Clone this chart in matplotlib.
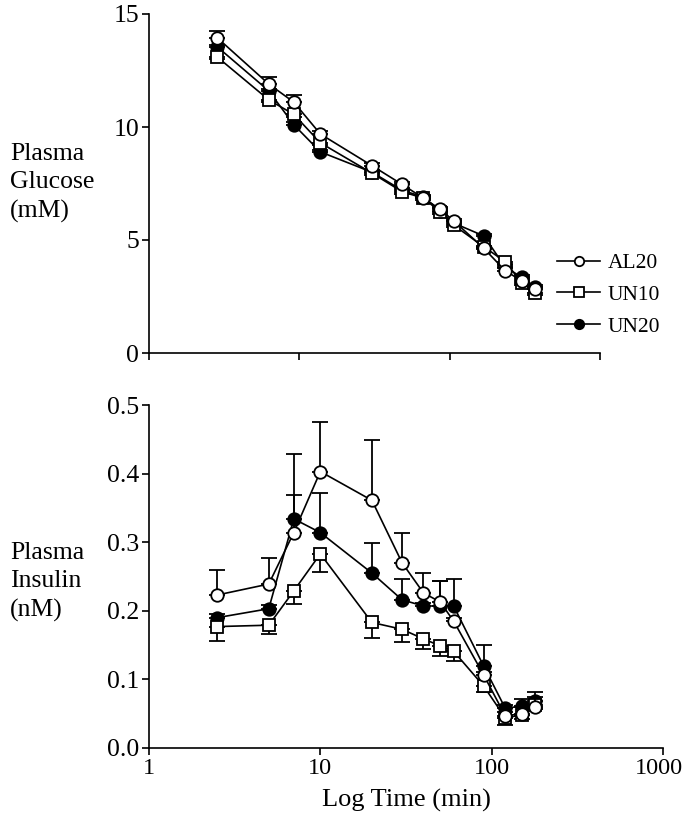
import numpy as np
import matplotlib
matplotlib.use("Agg")
import matplotlib.pyplot as plt
import matplotlib.transforms as mtransforms

plt.rcParams['font.family'] = ['Liberation Serif', 'DejaVu Serif']

# tiempos de muestreo (min)
time_min = [2.5, 5, 7, 10, 20, 30, 40, 50, 60, 90, 120, 150, 180]

# glucosa plasmática (mM)
glu_al20 = [13.95, 11.9, 11.1, 9.69, 8.29, 7.46, 6.85, 6.36, 5.85, 4.63, 3.64, 3.19, 2.82]
glu_un10 = [13.1, 11.2, 10.56, 9.3, 7.96, 7.14, 6.85, 6.25, 5.66, 4.7, 4.04, 3.1, 2.65]
glu_un20 = [13.55, 11.6, 10.1, 8.9, 8.0, 7.2, 6.9, 6.3, 5.75, 5.18, 3.8, 3.35, 2.9]
glu_al20_err = [0.3, 0.3, 0.3, 0.15, 0.1, 0.1, 0.1, 0.1, 0.1, 0.1, 0.1, 0.1, 0.1]
glu_un10_err = [0.1] * 13
glu_un20_err = [0.1] * 13

# insulina plasmática (nM)
ins_al20 = [0.223, 0.239, 0.314, 0.403, 0.361, 0.270, 0.226, 0.213, 0.185, 0.106, 0.047, 0.050, 0.060]
ins_un10 = [0.177, 0.179, 0.229, 0.283, 0.183, 0.173, 0.159, 0.149, 0.141, 0.090, 0.044, 0.048, 0.062]
ins_un20 = [0.190, 0.203, 0.334, 0.314, 0.255, 0.216, 0.207, 0.207, 0.207, 0.119, 0.058, 0.061, 0.068]
ins_al20_err = [0.037, 0.038, 0.055, 0.072, 0.088, 0.043, 0.029, 0.030, 0.005, 0.005, 0.005, 0.010, 0.014]
ins_un10_err = [0.021, 0.013, 0.019, 0.027, 0.022, 0.018, 0.015, 0.015, 0.014, 0.009, 0.010, 0.005, 0.005]
ins_un20_err = [0.005, 0.005, 0.094, 0.057, 0.044, 0.031, 0.005, 0.036, 0.039, 0.031, 0.005, 0.010, 0.014]

glu_ticks = [0, 5, 10, 15]
ins_ticks = [0.0, 0.1, 0.2, 0.3, 0.4, 0.5]
time_ticks = [1, 10, 100, 1000]

W, H = 685, 824
fig = plt.figure(figsize=(W / 100, H / 100), dpi=100)
ax1 = fig.add_axes([149 / W, 1 - 353 / H, 514 / W, 339 / H])
ax2 = fig.add_axes([149 / W, 1 - 748 / H, 514 / W, 343 / H])

series = [
    # etiqueta, marcador, relleno, orden
    ('UN20', 'o', 'black', 2),
    ('UN10', 's', 'white', 3),
    ('AL20', 'o', 'white', 4),
]
glu = {'AL20': (glu_al20, glu_al20_err, 'up'), 'UN10': (glu_un10, glu_un10_err, 'down'),
       'UN20': (glu_un20, glu_un20_err, 'up')}
ins = {'AL20': (ins_al20, ins_al20_err, 'up'), 'UN10': (ins_un10, ins_un10_err, 'down'),
       'UN20': (ins_un20, ins_un20_err, 'up')}

handles = {}
for ax, data in [(ax1, glu), (ax2, ins)]:
    for name, mk, fc, z in series:
        y, e, side = data[name]
        e = np.array(e)
        yerr = [np.zeros_like(e), e] if side == 'up' else [e, np.zeros_like(e)]
        ax.errorbar(time_min, y, yerr=yerr, fmt='none', ecolor='black',
                    elinewidth=1.3, capsize=6, capthick=1.3, zorder=z - 0.5)
        ln, = ax.plot(time_min, y, marker=mk, color='black', mfc=fc, mec='black',
                      ms=9 if mk == 'o' else 8.7, mew=1.3, lw=1.2, zorder=z, label=name)
        handles[name] = ln

for ax in (ax1, ax2):
    ax.set_xscale('log')
    ax.set_xlim(1, 1000)
    for s in ('top', 'right'):
        ax.spines[s].set_visible(False)
    for s in ('left', 'bottom'):
        ax.spines[s].set_linewidth(1.2)
    ax.tick_params(axis='both', which='major', direction='out', length=5, width=1.2,
                   labelsize=18.5, pad=2)
    ax.tick_params(axis='x', which='minor', bottom=False)

ax1.set_ylim(0, 15)
ax1.set_yticks(glu_ticks)
ax1.set_yticklabels([str(v) for v in glu_ticks])
top_end = 10 ** ((600 - 149) / 171.3)
ax1.spines['bottom'].set_bounds(1, top_end)
ax1.set_xticks(np.logspace(0, np.log10(top_end), 4))
ax1.set_xticklabels([])

ax2.set_ylim(0, 0.5)
ax2.set_yticks(ins_ticks)
ax2.set_yticklabels([f'{v:.1f}' for v in ins_ticks])
ax2.set_xticks(time_ticks)
ax2.set_xticklabels([str(v) for v in time_ticks])
ax2.tick_params(axis='x', labelsize=17.5)
last = ax2.get_xticklabels()[-1]
last.set_transform(last.get_transform() + mtransforms.ScaledTranslation(-4 / 100, 0, fig.dpi_scale_trans))
ax2.set_xlabel('Log Time (min)', fontsize=19, labelpad=7)

fig.text(10 / W, 1 - 183 / H, 'Plasma\nGlucose\n(mM)', fontsize=18.5, ha='left', va='center',
         linespacing=1.38)
fig.text(10 / W, 1 - 582 / H, 'Plasma\nInsulin\n(nM)', fontsize=18.5, ha='left', va='center',
         linespacing=1.38)

ax1.legend([handles['AL20'], handles['UN10'], handles['UN20']], ['AL20', 'UN10', 'UN20'],
           loc='upper left', bbox_to_anchor=(557 / W, 1 - 253 / H), bbox_transform=fig.transFigure,
           frameon=False, fontsize=15.5, handlelength=2.0, handletextpad=0.35,
           labelspacing=0.55, borderpad=0, borderaxespad=0, markerscale=0.75)

fig.savefig('out.png', dpi=100)
